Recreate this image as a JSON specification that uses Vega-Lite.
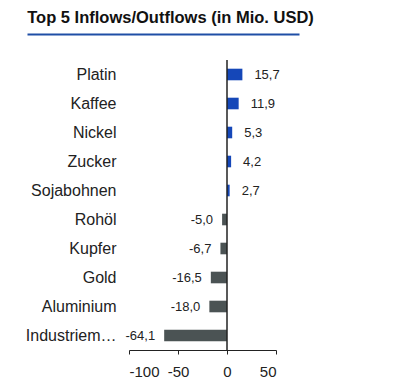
{
  "$schema": "https://vega.github.io/schema/vega-lite/v6.json",
  "autosize": {"type": "none"},
  "width": 272,
  "height": 290,
  "padding": {"left": 27, "top": 60, "right": 104, "bottom": 40},
  "background": "white",
  "title": {"text": "Top 5 Inflows/Outflows (in Mio. USD)", "anchor": "start", "dx": 3, "font": "Liberation Sans", "fontSize": 16.5, "fontWeight": "bold", "color": "#111111", "offset": 8},
  "config": {
    "locale": {"number": {"decimal": ",", "thousands": ".", "grouping": [3], "currency": ["", " €"], "minus": "-"}},
    "font": "Liberation Sans",
    "view": {"stroke": null}
  },
  "data": {"values": [
    {"c": "Platin", "v": 15.7},
    {"c": "Kaffee", "v": 11.9},
    {"c": "Nickel", "v": 5.3},
    {"c": "Zucker", "v": 4.2},
    {"c": "Sojabohnen", "v": 2.7},
    {"c": "Rohöl", "v": -5.0},
    {"c": "Kupfer", "v": -6.7},
    {"c": "Gold", "v": -16.5},
    {"c": "Aluminium", "v": -18.0},
    {"c": "Industriemetalle", "v": -64.1}
  ]},
  "resolve": {"scale": {"x": "independent"}, "axis": {"x": "independent"}},
  "layer": [
    {
      "encoding": {
        "y": {"field": "c", "type": "nominal", "sort": null,
              "scale": {"paddingInner": 0.6, "paddingOuter": 0.3},
              "axis": {"title": null, "domain": false, "ticks": false, "offset": -102, "labelFontSize": 16, "labelPadding": 13, "labelLimit": 92, "labelColor": "#222222"}},
        "x": {"field": "v", "type": "quantitative",
              "scale": {"domain": [-100, 50], "range": [102, 249], "nice": false},
              "axis": {"orient": "bottom", "values": [-100, -50, 0, 50], "title": null, "grid": false, "tickSize": 4, "labelFontSize": 15, "labelPadding": 10, "domainColor": "#222222", "tickColor": "#222222", "labelColor": "#222222", "format": "d"}}
      },
      "layer": [
        {
          "mark": {"type": "bar"},
          "encoding": {
            "color": {"condition": {"test": "datum.v >= 0", "value": "#1547b8"}, "value": "#4b5354"}
          }
        },
        {
          "transform": [{"filter": "datum.v >= 0"}],
          "mark": {"type": "text", "align": "left", "baseline": "middle", "dx": 12, "fontSize": 13, "color": "#222222"},
          "encoding": {"text": {"field": "v", "type": "quantitative", "format": ".1f"}}
        },
        {
          "transform": [{"filter": "datum.v < 0"}],
          "mark": {"type": "text", "align": "right", "baseline": "middle", "dx": -9, "fontSize": 13, "color": "#222222"},
          "encoding": {"text": {"field": "v", "type": "quantitative", "format": ".1f"}}
        },
        {
          "data": {"values": [{"z": 0}]},
          "mark": {"type": "rule", "color": "#222222", "strokeWidth": 1.5},
          "encoding": {"x": {"field": "z", "type": "quantitative"}, "y": null}
        }
      ]
    },
    {
      "data": {"values": [{"u": 0}, {"u": 1}]},
      "mark": {"type": "point", "opacity": 0},
      "encoding": {
        "x": {"field": "u", "type": "quantitative", "scale": {"domain": [0, 1], "nice": false},
              "axis": {"orient": "top", "offset": 26, "domainColor": "#1f4ea6", "domainWidth": 2, "ticks": false, "labels": false, "grid": false, "title": null}}
      }
    }
  ]
}
